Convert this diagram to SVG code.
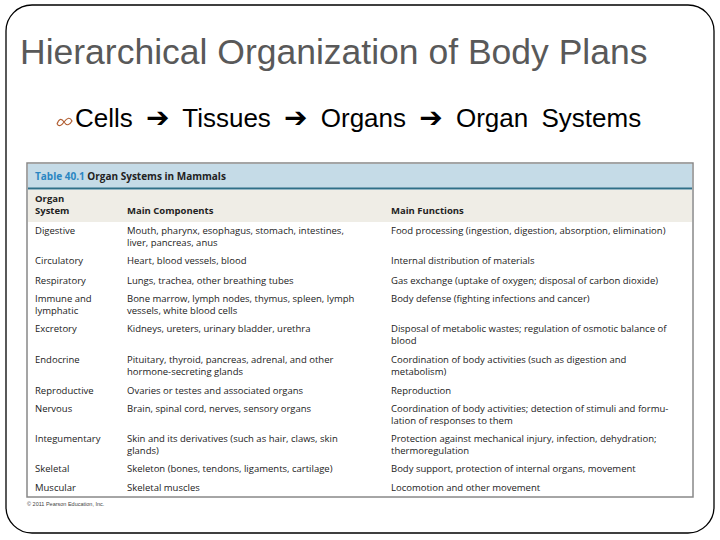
<svg xmlns="http://www.w3.org/2000/svg" width="720" height="540" viewBox="0 0 720 540">
<style>
.t{font-family:"Open Sans","Liberation Sans",sans-serif;font-size:9.5px;fill:#222}
.h{font-family:"Open Sans","Liberation Sans",sans-serif;font-size:9.5px;font-weight:bold;fill:#222}
.a{font-family:"DejaVu Sans",sans-serif;font-size:28px}
</style>
<rect width="720" height="540" fill="#fff"/>
<rect x="6" y="5" width="708" height="528" rx="26" fill="none" stroke="#000" stroke-width="1.3"/>
<g id="title"><text x="20" y="64" font-family="Liberation Sans,sans-serif" font-size="35.5" fill="#595959">Hierarchical Organization of Body Plans</text></g>
<g id="bullet">
<path d="M57 124 q3 -8 7 -2 q4 6 8 -1 q-3 -6 -8 1 q-4 6 -7 2" fill="none" stroke="#b05c2f" stroke-width="1.2"/>
<text x="75" y="127" font-family="Liberation Sans,sans-serif" font-size="26" fill="#000" word-spacing="6">Cells <tspan class="a">➔</tspan> Tissues <tspan class="a">➔</tspan> Organs <tspan class="a">➔</tspan> Organ Systems</text>
</g>
<g id="table">
<rect x="27" y="163" width="666" height="334" fill="#fff" stroke="#888" stroke-width="1.5"/>
<rect x="28" y="164" width="664" height="24" fill="#c5dbe7"/>
<line x1="28" y1="188.5" x2="692" y2="188.5" stroke="#2f6f88" stroke-width="2"/>
<rect x="28" y="190" width="664" height="32" fill="#efede6"/>
<text x="35" y="180" font-family="Open Sans,Liberation Sans,sans-serif" font-size="10" font-weight="bold"><tspan fill="#2a86c2">Table 40.1 </tspan><tspan fill="#222">Organ Systems in Mammals</tspan></text>
<text class="h" x="35" y="202">Organ</text>
<text class="h" x="35" y="214">System</text>
<text class="h" x="127" y="214">Main Components</text>
<text class="h" x="391" y="214">Main Functions</text>
<g class="t">
<text x="35" y="234">Digestive</text><text x="127" y="234">Mouth, pharynx, esophagus, stomach, intestines,</text><text x="127" y="246">liver, pancreas, anus</text><text x="391" y="234">Food processing (ingestion, digestion, absorption, elimination)</text>
<text x="35" y="264">Circulatory</text><text x="127" y="264">Heart, blood vessels, blood</text><text x="391" y="264">Internal distribution of materials</text>
<text x="35" y="284">Respiratory</text><text x="127" y="284">Lungs, trachea, other breathing tubes</text><text x="391" y="284">Gas exchange (uptake of oxygen; disposal of carbon dioxide)</text>
<text x="35" y="302">Immune and</text><text x="35" y="314">lymphatic</text><text x="127" y="302">Bone marrow, lymph nodes, thymus, spleen, lymph</text><text x="127" y="314">vessels, white blood cells</text><text x="391" y="302">Body defense (fighting infections and cancer)</text>
<text x="35" y="332">Excretory</text><text x="127" y="332">Kidneys, ureters, urinary bladder, urethra</text><text x="391" y="332">Disposal of metabolic wastes; regulation of osmotic balance of</text><text x="391" y="344">blood</text>
<text x="35" y="363">Endocrine</text><text x="127" y="363">Pituitary, thyroid, pancreas, adrenal, and other</text><text x="127" y="375">hormone-secreting glands</text><text x="391" y="363">Coordination of body activities (such as digestion and</text><text x="391" y="375">metabolism)</text>
<text x="35" y="394">Reproductive</text><text x="127" y="394">Ovaries or testes and associated organs</text><text x="391" y="394">Reproduction</text>
<text x="35" y="412">Nervous</text><text x="127" y="412">Brain, spinal cord, nerves, sensory organs</text><text x="391" y="412">Coordination of body activities; detection of stimuli and formu-</text><text x="391" y="424">lation of responses to them</text>
<text x="35" y="442">Integumentary</text><text x="127" y="442">Skin and its derivatives (such as hair, claws, skin</text><text x="127" y="454">glands)</text><text x="391" y="442">Protection against mechanical injury, infection, dehydration;</text><text x="391" y="454">thermoregulation</text>
<text x="35" y="472">Skeletal</text><text x="127" y="472">Skeleton (bones, tendons, ligaments, cartilage)</text><text x="391" y="472">Body support, protection of internal organs, movement</text>
<text x="35" y="491">Muscular</text><text x="127" y="491">Skeletal muscles</text><text x="391" y="491">Locomotion and other movement</text>
</g>
<text x="27" y="506" font-family="Liberation Sans,sans-serif" font-size="5.5" fill="#444">© 2011 Pearson Education, Inc.</text>
</g>
</svg>
